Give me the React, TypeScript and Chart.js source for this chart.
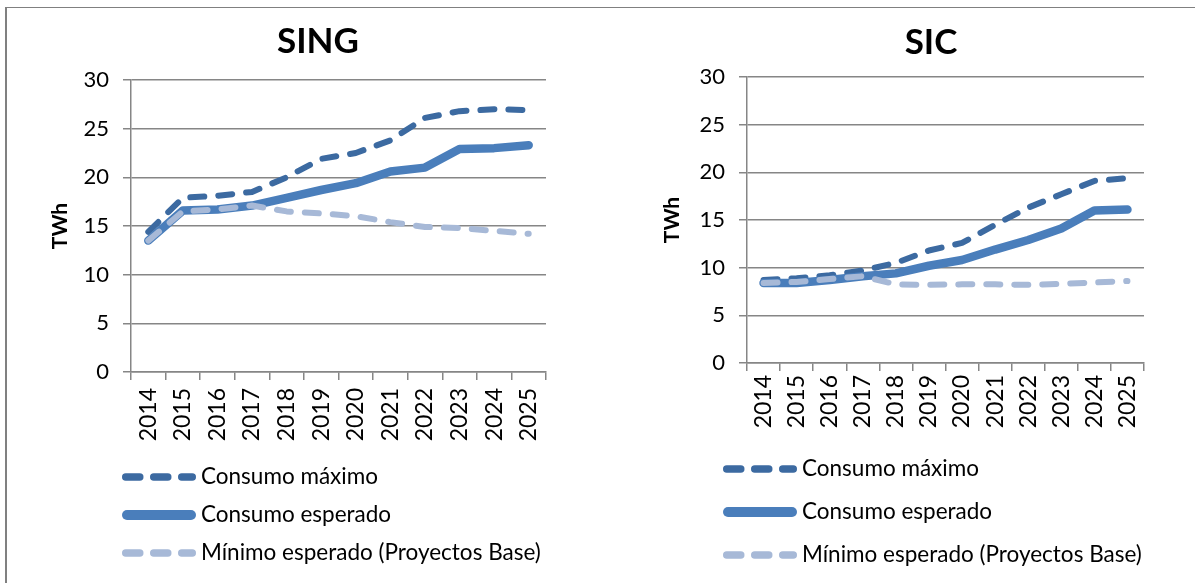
import React, { useEffect, useRef } from 'react';
import { Chart, registerables } from 'chart.js';

Chart.register(...registerables);

// ---------- data ----------
const years = ['2014', '2015', '2016', '2017', '2018', '2019', '2020', '2021', '2022', '2023', '2024', '2025'];
const seriesLabels = ['Consumo máximo', 'Consumo esperado', 'Mínimo esperado (Proyectos Base)'];

const singMax = [14.4, 17.9, 18.1, 18.5, 20.0, 21.9, 22.5, 23.8, 26.1, 26.8, 27.0, 26.9];
const singExp = [13.5, 16.6, 16.7, 17.1, 17.9, 18.7, 19.4, 20.6, 21.0, 22.9, 23.0, 23.3];
const singMin = [13.5, 16.5, 16.7, 17.1, 16.5, 16.3, 16.0, 15.4, 14.9, 14.8, 14.5, 14.2];

const sicMax = [8.7, 8.9, 9.2, 9.7, 10.5, 11.8, 12.6, 14.5, 16.3, 17.7, 19.1, 19.4];
const sicExp = [8.4, 8.4, 8.7, 9.1, 9.4, 10.2, 10.8, 11.9, 12.9, 14.1, 16.0, 16.1];
const sicMin = [8.4, 8.5, 8.8, 9.1, 8.25, 8.2, 8.25, 8.25, 8.2, 8.3, 8.45, 8.6];

const yMin = 0;
const yMax = 30;
const yStep = 5;

// ---------- styles ----------
const FONT = 'Lato, "Liberation Sans", sans-serif';
const GRID = '#868686';
const C_MAX = '#3C6AA1';
const C_EXP = '#4A7EBB';
const C_MIN = '#A7B9D7';

type PanelCfg = {
  title: string;
  left: number;
  w: number;
  h: number;
  padRight: number;
  padBottom: number;
  yScaleWidth: number;
  titleCenter: number;
  titlePadTop: number;
  titlePadBottom: number;
  yTitlePad: number;
  xTickPad: number;
  legendX: number;
  legendRows: number[];
  data: number[][];
};

function makePanelPlugin(cfg: PanelCfg) {
  return {
    id: 'panelExtras',
    afterLayout(chart: any) {
      const tb = chart.titleBlock;
      if (tb) {
        const half = (tb.right - tb.left) / 2;
        tb.left = cfg.titleCenter - half;
        tb.right = cfg.titleCenter + half;
      }
    },
    afterDraw(chart: any) {
      const ctx = chart.ctx as CanvasRenderingContext2D;
      const lineLen = 74;
      chart.data.datasets.forEach((ds: any, i: number) => {
        const y = cfg.legendRows[i];
        const x0 = cfg.legendX;
        const x1 = x0 + lineLen;
        const w = ds.borderWidth + 1.5;
        ctx.save();
        ctx.strokeStyle = ds.borderColor;
        ctx.lineWidth = w;
        ctx.lineCap = 'round';
        ctx.setLineDash(ds.borderDash || []);
        ctx.beginPath();
        ctx.moveTo(x0 + w / 2, y);
        ctx.lineTo(x1 - w / 2, y);
        ctx.stroke();
        ctx.setLineDash([]);
        ctx.fillStyle = '#000';
        ctx.font = `22.5px ${FONT}`;
        ctx.textBaseline = 'middle';
        ctx.textAlign = 'left';
        ctx.fillText(ds.label, x1 + 5, y);
        ctx.restore();
      });
    },
  };
}

function buildConfig(cfg: PanelCfg): any {
  const colors = [C_MAX, C_EXP, C_MIN];
  const widths = [6, 8.5, 6];
  const dashes = [[14, 14], [], [14, 14]];
  const orders = [2, 1, 0];
  return {
    type: 'line',
    data: {
      labels: years,
      datasets: cfg.data.map((d, i) => ({
        label: seriesLabels[i],
        data: d,
        borderColor: colors[i],
        backgroundColor: colors[i],
        borderWidth: widths[i],
        borderDash: dashes[i],
        borderCapStyle: 'round',
        borderJoinStyle: 'round',
        pointRadius: 0,
        pointHoverRadius: 0,
        tension: 0,
        fill: false,
        order: orders[i],
      })),
    },
    options: {
      responsive: false,
      animation: false,
      devicePixelRatio: 1,
      events: [],
      layout: { padding: { left: 0, right: cfg.padRight, top: 0, bottom: cfg.padBottom } },
      plugins: {
        legend: { display: false },
        tooltip: { enabled: false },
        title: {
          display: true,
          text: cfg.title,
          color: '#000',
          font: { family: FONT, size: 35, weight: 'bold' },
          padding: { top: cfg.titlePadTop, bottom: cfg.titlePadBottom },
        },
      },
      scales: {
        x: {
          offset: true,
          grid: { offset: true, drawOnChartArea: false, drawTicks: true, tickLength: 8, color: GRID, lineWidth: 1.5 },
          border: { color: GRID, width: 1.5 },
          ticks: {
            minRotation: 90,
            maxRotation: 90,
            autoSkip: false,
            padding: cfg.xTickPad,
            color: '#000',
            font: { family: FONT, size: 23 },
          },
          afterFit: (s: any) => {
            s.height = 80;
          },
        },
        y: {
          min: yMin,
          max: yMax,
          ticks: { stepSize: yStep, padding: 14, color: '#000', font: { family: FONT, size: 22 } },
          grid: { color: GRID, lineWidth: 1.5, tickLength: 8, drawTicks: true },
          border: { color: GRID, width: 1.5 },
          title: {
            display: true,
            text: 'TWh',
            color: '#000',
            font: { family: FONT, size: 21, weight: 'bold' },
            padding: { top: cfg.yTitlePad, bottom: 0 },
          },
          afterFit: (s: any) => {
            s.width = cfg.yScaleWidth;
          },
        },
      },
    },
    plugins: [makePanelPlugin(cfg)],
  };
}

function Panel({ cfg }: { cfg: PanelCfg }) {
  const ref = useRef<HTMLCanvasElement>(null);
  useEffect(() => {
    const chart = new Chart(ref.current as HTMLCanvasElement, buildConfig(cfg));
    return () => chart.destroy();
  }, []);
  return (
    <canvas
      ref={ref}
      width={cfg.w}
      height={cfg.h}
      style={{ position: 'absolute', left: cfg.left, top: 0, width: cfg.w, height: cfg.h, display: 'block' }}
    />
  );
}

const singCfg: PanelCfg = {
  title: 'SING',
  left: 10,
  w: 616,
  h: 583,
  padRight: 80,
  padBottom: 131,
  yScaleWidth: 121,
  titleCenter: 308,
  titlePadTop: 21,
  titlePadBottom: 17,
  yTitlePad: 37.5,
  xTickPad: 8,
  legendX: 112,
  legendRows: [477, 515, 553],
  data: [singMax, singExp, singMin],
};

const sicCfg: PanelCfg = {
  title: 'SIC',
  left: 630,
  w: 602,
  h: 583,
  padRight: 88,
  padBottom: 140,
  yScaleWidth: 117,
  titleCenter: 301,
  titlePadTop: 21.5,
  titlePadBottom: 13.5,
  yTitlePad: 29.5,
  xTickPad: 4,
  legendX: 93,
  legendRows: [469, 512, 555],
  data: [sicMax, sicExp, sicMin],
};

export default function App() {
  return (
    <div
      style={{
        position: 'absolute',
        left: 0,
        top: 0,
        width: 1195,
        height: 583,
        overflow: 'hidden',
        background: '#fff',
      }}
    >
      <Panel cfg={singCfg} />
      <Panel cfg={sicCfg} />
      <div style={{ position: 'absolute', left: 5, top: 7, width: 1190, height: 1, background: '#808080' }} />
      <div style={{ position: 'absolute', left: 5, top: 7, width: 2, height: 576, background: '#808080' }} />
    </div>
  );
}
